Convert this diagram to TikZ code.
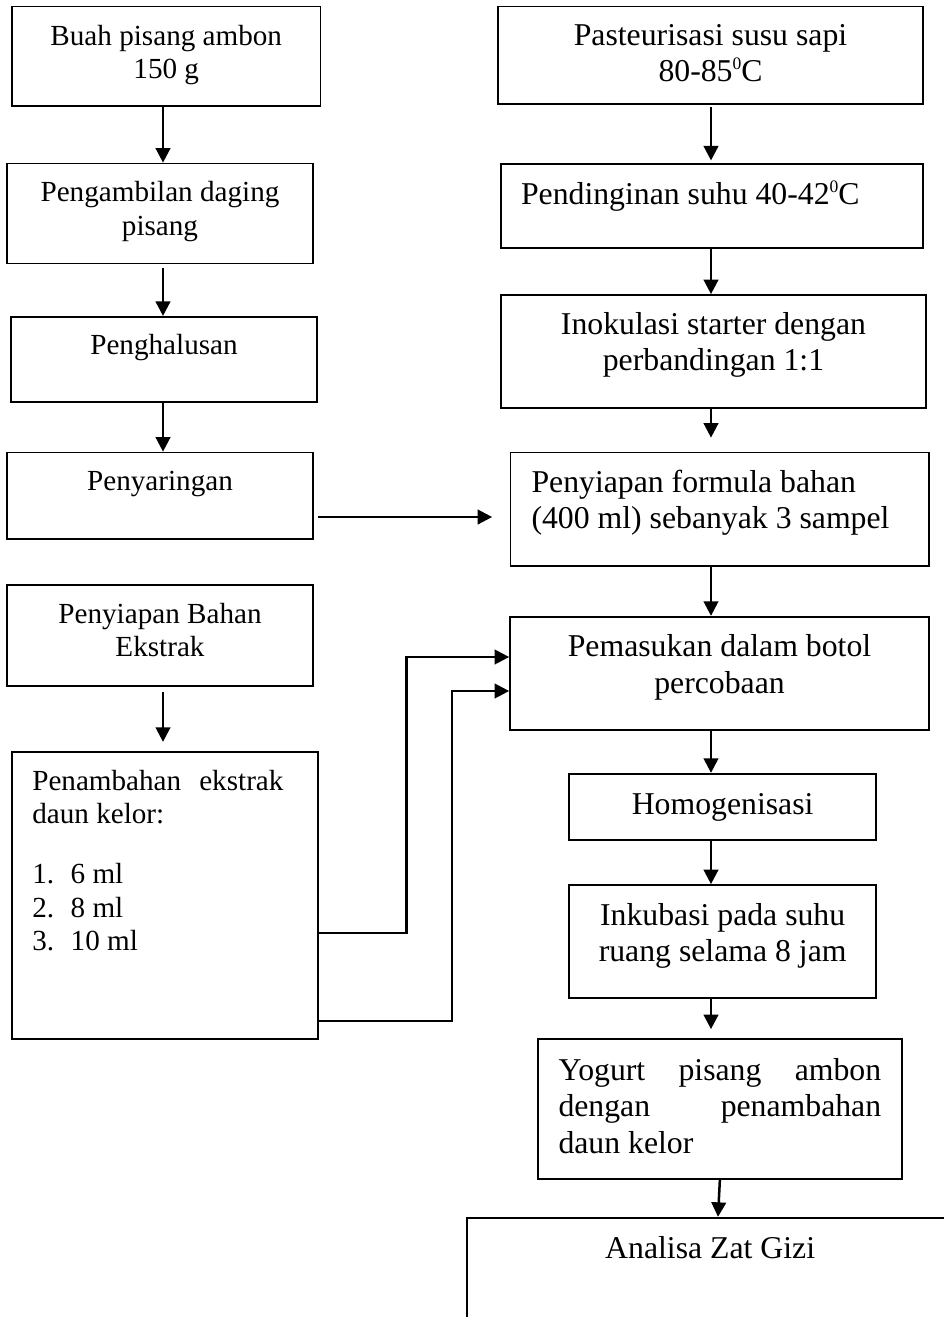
\documentclass[tikz,border=0pt]{standalone}
\usepackage{fontspec}
\setmainfont{Liberation Serif}
\usetikzlibrary{arrows.meta}

\newcommand{\lowpad}[1]{\rule[-#1]{0pt}{#1}}
\newcommand{\supdeg}[1]{\raisebox{12pt}{\fontsize{17.5}{17.5}\selectfont #1}}

\begin{document}
\begin{tikzpicture}[x=1pt, y=-1pt,
    box/.style={draw, line width=1.7pt, inner sep=0pt, align=center},
    lbox/.style={box, font=\fontsize{29.15}{33.5}\selectfont},
    rbox/.style={box, font=\fontsize{31.75}{36.5}\selectfont},
    arr/.style={-{Triangle[length=14.5pt, width=14.5pt]}, line width=2.5pt},
    feed/.style={arr, line width=2.3pt}]
        \useasboundingbox (0,0) rectangle (943,1317);

        % Left column: banana preparation
        \node[lbox, minimum width=308.5pt, minimum height=99.2pt] (buah) at (166.25,56.1) {Buah pisang ambon\\150 g\lowpad{8.6pt}};
        \node[lbox, minimum width=306pt, minimum height=100pt] (daging) at (160,213.5) {Pengambilan daging\\pisang\lowpad{10pt}};
        \node[lbox, minimum width=306pt, minimum height=85pt] (halus) at (164,359.3) {Penghalusan\lowpad{29.3pt}};
        \node[lbox, minimum width=306pt, minimum height=86.5pt] (saring) at (160,495.75) {Penyaringan\lowpad{30.6pt}};

        % Left column: extract
        \node[lbox, minimum width=306pt, minimum height=101pt] (bahan) at (160,635.5) {Penyiapan Bahan\\Ekstrak\lowpad{11.4pt}};
        \node[lbox, align=flush left, text width=265.4pt, minimum width=305.4pt, minimum height=287pt] (ekstrak) at (165,895.5)
            {Penambahan\hspace{0.62em}ekstrak\\daun kelor:\\[26.5pt]\makebox[38.4pt][l]{1.}6 ml\\\makebox[38.4pt][l]{2.}8 ml\\\makebox[38.4pt][l]{3.}10 ml\lowpad{70.4pt}};

        % Right column: milk and yogurt steps
        \node[rbox, minimum width=425pt, minimum height=97.8pt] (pasteur) at (710.5,55.4) {Pasteurisasi susu sapi\\80-85\supdeg{0}C\lowpad{4.6pt}};
        \node[rbox, align=flush left, text width=382pt, minimum width=422pt, minimum height=83.4pt] (dingin) at (712,206) {Pendinginan suhu 40-42\supdeg{0}C\lowpad{25.8pt}};
        \node[rbox, minimum width=425pt, minimum height=112.9pt] (inokulasi) at (713.5,351.45) {Inokulasi starter dengan\\perbandingan 1:1\lowpad{19.5pt}};
        \node[rbox, align=flush left, text width=376.5pt, minimum width=418.5pt, minimum height=113.2pt] (formula) at (719.75,509.1) {Penyiapan formula bahan\\(400 ml) sebanyak 3 sampel\lowpad{20pt}};
        \node[rbox, minimum width=419pt, minimum height=113.3pt] (botol) at (719.5,673.35) {Pemasukan dalam botol\\percobaan\lowpad{18.5pt}};
        \node[rbox, minimum width=306.7pt, minimum height=66.6pt] (homogen) at (722.65,807) {Homogenisasi};
        \node[rbox, minimum width=306.7pt, minimum height=113.3pt] (inkubasi) at (722.65,941.65) {Inkubasi pada suhu\\ruang selama 8 jam\lowpad{18.5pt}};
        \node[rbox, align=flush left, text width=322.7pt, minimum width=364.3pt, minimum height=140pt] (yogurt) at (719.85,1109.3) {Yogurt\hfill pisang\hfill ambon\\dengan\hfill penambahan\\daun kelor\lowpad{7.3pt}};
        \node[rbox, minimum width=485.7pt, minimum height=122.3pt] (gizi) at (710.15,1278.85) {Analisa Zat Gizi\lowpad{62.8pt}};

        % Arrow columns
        \coordinate (colL) at (163,0);
        \coordinate (colR) at (711,0);

        % Left arrows
        \draw[arr] (buah.south -| colL) -- (daging.north -| colL);
        \draw[arr, shorten <=3.5pt] (daging.south -| colL) -- (halus.north -| colL);
        \draw[arr] (halus.south -| colL) -- (saring.north -| colL);
        \draw[arr, shorten <=4.7pt, shorten >=9.3pt] (bahan.south -| colL) -- (ekstrak.north -| colL);

        % Right arrows
        \draw[arr, shorten <=2pt, shorten >=3pt] (pasteur.south -| colR) -- (dingin.north -| colR);
        \draw[arr] (dingin.south -| colR) -- (inokulasi.north -| colR);
        \draw[arr, shorten >=14pt] (inokulasi.south -| colR) -- (formula.north -| colR);
        \draw[arr] (formula.south -| colR) -- (botol.north -| colR);
        \draw[arr] (botol.south -| colR) -- (homogen.north -| colR);
        \draw[arr] (homogen.south -| colR) -- (inkubasi.north -| colR);
        \draw[arr, shorten >=9.3pt] (inkubasi.south -| colR) -- (yogurt.north -| colR);
        \draw[arr] (yogurt.south) -- ([xshift=7.85pt]gizi.north);

        % Cross links
        \draw[arr, shorten <=4pt, shorten >=17.5pt] ([yshift=-21.25pt]saring.east) -- ([yshift=-21.25pt]saring.east -| formula.west);
        \coordinate (bend1) at (406.5,657);
        \coordinate (bend2) at (452,691);
        \draw[feed] ([yshift=-37.5pt]ekstrak.east) -| (bend1) -- (bend1 -| botol.west);
        \draw[feed] ([yshift=-125.5pt]ekstrak.east) -| (bend2) -- (bend2 -| botol.west);
\end{tikzpicture}
\end{document}
